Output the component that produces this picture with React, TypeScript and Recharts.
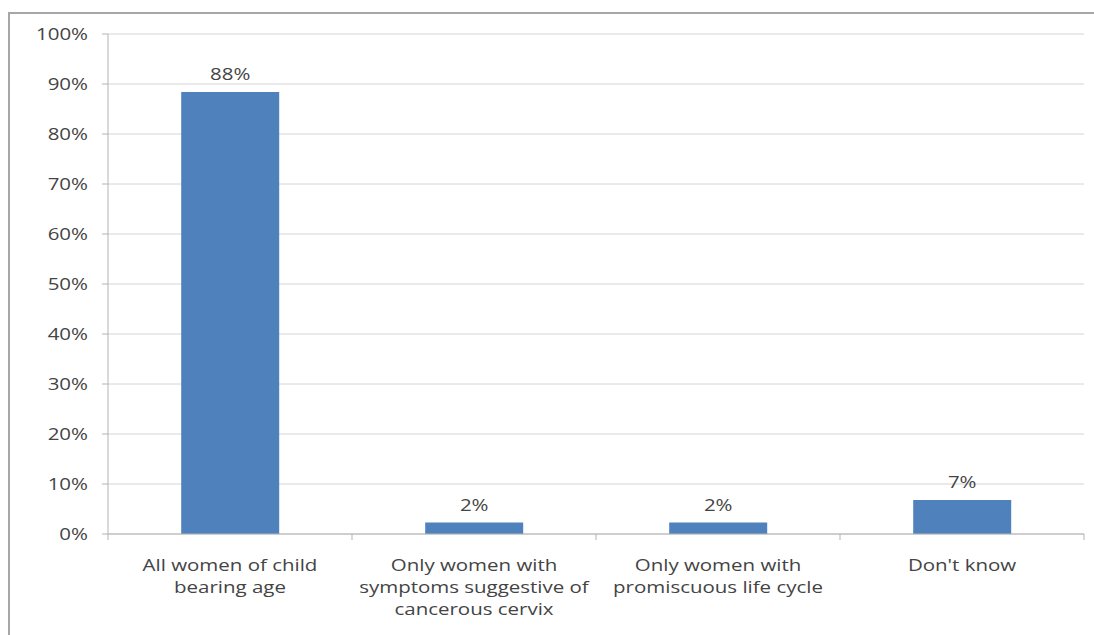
import React from 'react';
import { BarChart, Bar, XAxis, YAxis, CartesianGrid, LabelList } from 'recharts';

const categories = [
  'All women of child bearing age',
  'Only women with symptoms suggestive of cancerous cervix',
  'Only women with promiscuous life cycle',
  "Don't know",
];
const tickLines = [
  ['All women of child', 'bearing age'],
  ['Only women with', 'symptoms suggestive of', 'cancerous cervix'],
  ['Only women with', 'promiscuous life cycle'],
  ["Don't know"],
];
const values = [88.4, 2.3, 2.3, 6.8];
const valueLabels = ['88%', '2%', '2%', '7%'];
const yTicks = [0, 10, 20, 30, 40, 50, 60, 70, 80, 90, 100];

const data = categories.map((name, i) => ({ name, value: values[i], label: valueLabels[i] }));

const FONT = '"Open Sans", sans-serif';
const TEXT = '#444';
const AXIS = '#b3b3b3';
const HALF_BAND = 122;
const STRETCH = 1.28;

// the source picture is stretched sideways, so the text gets the same stretch
const WideText = ({ x, y, anchor, children }: any) => (
  <text
    transform={`translate(${x},${y}) scale(${STRETCH},1)`}
    textAnchor={anchor}
    fill={TEXT}
    fontSize={16}
    fontFamily={FONT}
  >
    {children}
  </text>
);

const CategoryTick = (props: any) => {
  const { x, y, index } = props;
  const lines = tickLines[index] || [];
  return (
    <g>
      <line x1={x - HALF_BAND} x2={x - HALF_BAND} y1={y} y2={y + 6} stroke={AXIS} />
      {index === categories.length - 1 && (
        <line x1={x + HALF_BAND} x2={x + HALF_BAND} y1={y} y2={y + 6} stroke={AXIS} />
      )}
      <WideText x={x} y={y + 37} anchor="middle">
        {lines.map((l, i) => (
          <tspan key={i} x={0} dy={i === 0 ? 0 : 22}>{l}</tspan>
        ))}
      </WideText>
    </g>
  );
};

const PercentTick = (props: any) => {
  const { x, y, payload } = props;
  return (
    <WideText x={x} y={y + 6} anchor="end">{`${payload.value}%`}</WideText>
  );
};

const BarValue = (props: any) => {
  const { x, y, width, value } = props;
  return (
    <WideText x={x + width / 2} y={y - 12} anchor="middle">{value}</WideText>
  );
};

const App: React.FC = () => {
  return (
    <div style={{ position: 'absolute', left: 0, top: 0, width: 1094, height: 635, background: '#fff', overflow: 'hidden' }}>
      <div style={{ position: 'absolute', left: 8, top: 12, width: 1100, height: 700, border: '2px solid #a6a6a6', boxSizing: 'border-box' }} />
      <div style={{ position: 'absolute', left: 0, top: 0 }}>
        <BarChart
          width={1094}
          height={635}
          data={data}
          margin={{ top: 34, right: 10, bottom: 0, left: 0 }}
          barCategoryGap="30%"
        >
          <CartesianGrid vertical={false} stroke="#d4d4d4" />
          <XAxis
            dataKey="name"
            height={101}
            axisLine={{ stroke: AXIS }}
            tickLine={false}
            tickSize={0}
            tickMargin={0}
            interval={0}
            tick={<CategoryTick />}
          />
          <YAxis
            width={108}
            domain={[0, 100]}
            ticks={yTicks}
            axisLine={{ stroke: AXIS }}
            tickLine={{ stroke: AXIS }}
            tickSize={6}
            tickMargin={14}
            tick={<PercentTick />}
          />
          <Bar dataKey="value" fill="#4f81bd" isAnimationActive={false}>
            <LabelList dataKey="label" content={<BarValue />} />
          </Bar>
        </BarChart>
      </div>
    </div>
  );
};

export default App;
